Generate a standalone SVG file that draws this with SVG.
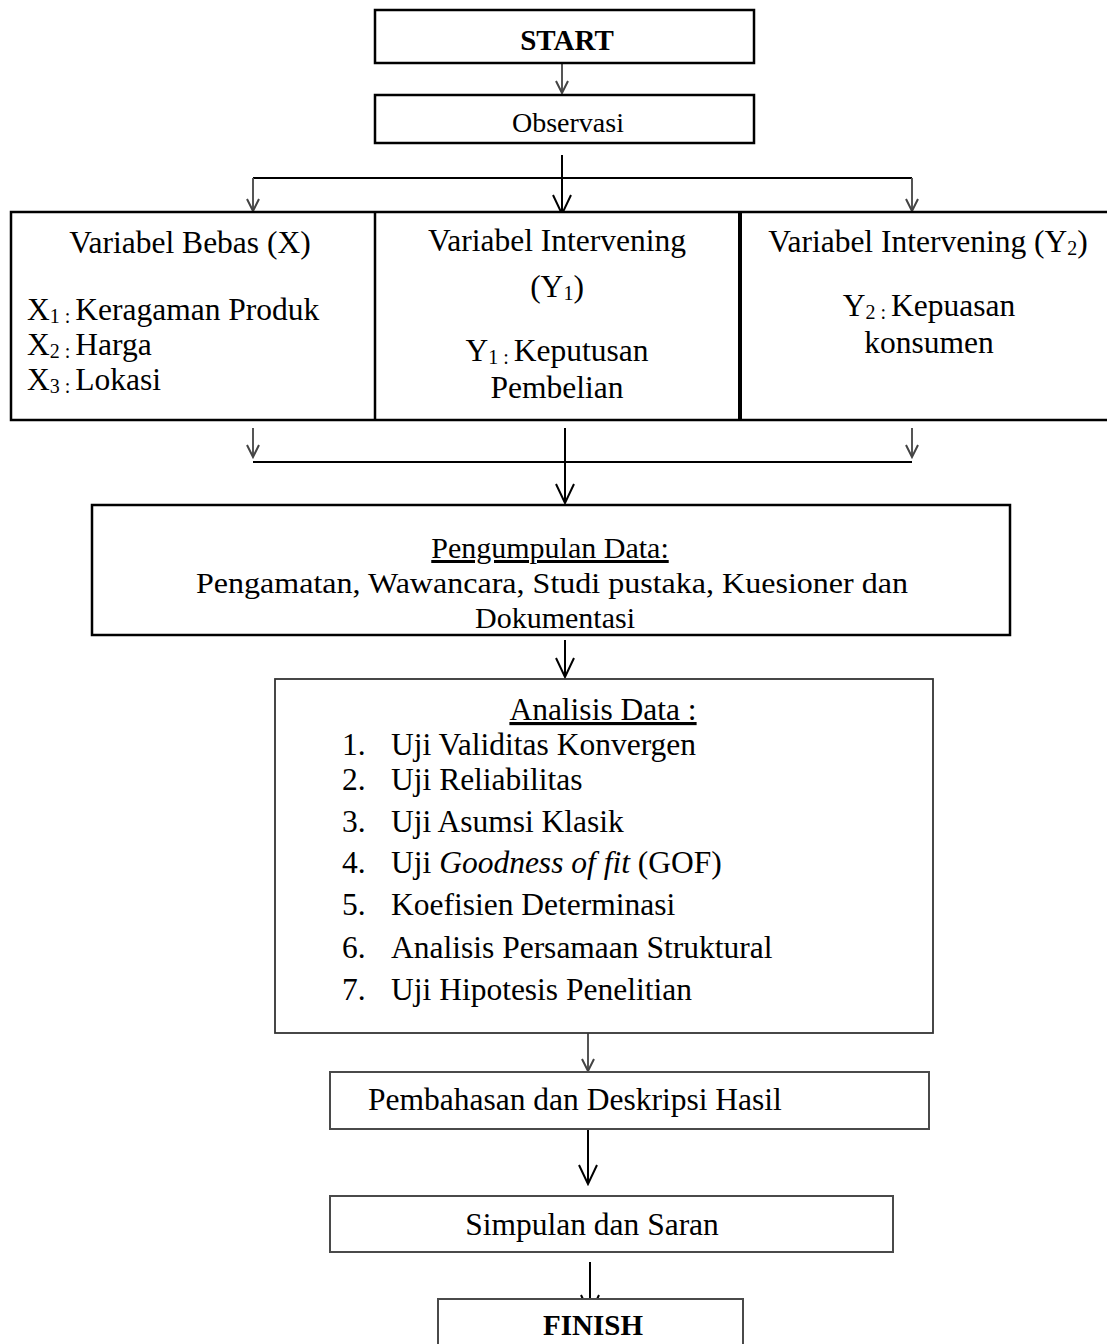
<svg xmlns="http://www.w3.org/2000/svg" width="1107" height="1344" viewBox="0 0 1107 1344">
<style>
.box{fill:#fff;stroke:#000;stroke-width:2.5}
.box2{fill:#fff;stroke:#4a4a4a;stroke-width:2}
.t{font-family:"Liberation Serif","Times New Roman",serif;font-size:31.5px;fill:#000}
.c{text-anchor:middle}
.b{font-weight:bold}
.u{text-decoration:underline}
.ln{fill:none;stroke:#000;stroke-width:2}
.big{fill:none;stroke:#000;stroke-width:2;marker-end:url(#ah)}
.sm{fill:none;stroke:#555;stroke-width:2;marker-end:url(#ahs)}
.sub{font-size:20px}
</style>
<defs>
<marker id="ah" viewBox="0 0 22 20" refX="20" refY="10" markerWidth="22" markerHeight="20" orient="auto" markerUnits="userSpaceOnUse">
<path d="M1,1 L20,10 L1,19" fill="none" stroke="#000" stroke-width="2"/>
</marker>
<marker id="ahs" viewBox="0 0 15 14" refX="13" refY="7" markerWidth="15" markerHeight="14" orient="auto" markerUnits="userSpaceOnUse">
<path d="M1,1 L13,7 L1,13" fill="none" stroke="#444" stroke-width="2"/>
</marker>
</defs>
<rect width="1107" height="1344" fill="#fff"/>

<g id="connectors">
<path class="sm" d="M562,63 V93"/>
<path class="big" d="M562,155 V214"/>
<path class="ln" d="M253,178 H912"/>
<path class="sm" d="M253,178 V211"/>
<path class="sm" d="M912,178 V211"/>
<path class="sm" d="M253,428 V457"/>
<path class="sm" d="M912,428 V457"/>
<path class="ln" d="M253,462 H912"/>
<path class="big" d="M565,428 V503"/>
<path class="big" d="M565,640 V677"/>
<path class="sm" d="M588,1033 V1071"/>
<path class="big" d="M588,1130 V1184"/>
<path class="big" d="M590,1262 V1314"/>
</g>

<g id="start">
<rect class="box" x="375" y="10" width="379" height="53"/>
<text class="t c b" x="567" y="50" style="font-size:29px">START</text>
</g>

<g id="observasi">
<rect class="box" x="375" y="95" width="379" height="48"/>
<text class="t c" x="568" y="132" style="font-size:28px">Observasi</text>
</g>

<g id="variabel">
<rect class="box" x="11" y="212" width="1110" height="208"/>
<line x1="375" y1="212" x2="375" y2="420" stroke="#000" stroke-width="2.5"/>
<line x1="740" y1="212" x2="740" y2="420" stroke="#000" stroke-width="4"/>
<g id="variabel-bebas">
<text class="t c" x="190" y="253">Variabel Bebas (X)</text>
<text class="t" x="27" y="320">X<tspan class="sub" dy="3">1 : </tspan><tspan dy="-3">Keragaman Produk</tspan></text>
<text class="t" x="27" y="355">X<tspan class="sub" dy="3">2 : </tspan><tspan dy="-3">Harga</tspan></text>
<text class="t" x="27" y="390">X<tspan class="sub" dy="3">3 : </tspan><tspan dy="-3">Lokasi</tspan></text>
</g>
<g id="variabel-y1">
<text class="t c" x="557" y="251">Variabel Intervening</text>
<text class="t c" x="557" y="297">(Y<tspan class="sub" dy="3">1</tspan><tspan dy="-3">)</tspan></text>
<text class="t c" x="557" y="361">Y<tspan class="sub" dy="3">1 : </tspan><tspan dy="-3">Keputusan</tspan></text>
<text class="t c" x="557" y="398">Pembelian</text>
</g>
<g id="variabel-y2">
<text class="t c" x="928" y="252">Variabel Intervening (Y<tspan class="sub" dy="3">2</tspan><tspan dy="-3">)</tspan></text>
<text class="t c" x="929" y="316">Y<tspan class="sub" dy="3">2 : </tspan><tspan dy="-3">Kepuasan</tspan></text>
<text class="t c" x="929" y="353">konsumen</text>
</g>
</g>

<g id="pengumpulan">
<rect class="box" x="92" y="505" width="918" height="130"/>
<text class="t c u" x="550" y="558" style="font-size:30px">Pengumpulan Data:</text>
<text class="t c" x="552" y="593" style="font-size:30px" textLength="712" lengthAdjust="spacingAndGlyphs">Pengamatan, Wawancara, Studi pustaka, Kuesioner dan</text>
<text class="t c" x="555" y="628" style="font-size:30px">Dokumentasi</text>
</g>

<g id="analisis">
<rect class="box" x="275" y="679" width="658" height="354" style="stroke:#333;stroke-width:1.8"/>
<text class="t c u" x="603" y="720">Analisis Data :</text>
<text class="t" x="342" y="755">1.</text><text class="t" x="391" y="755">Uji Validitas Konvergen</text>
<text class="t" x="342" y="790">2.</text><text class="t" x="391" y="790">Uji Reliabilitas</text>
<text class="t" x="342" y="832">3.</text><text class="t" x="391" y="832">Uji Asumsi Klasik</text>
<text class="t" x="342" y="873">4.</text><text class="t" x="391" y="873">Uji <tspan font-style="italic">Goodness of fit</tspan> (GOF)</text>
<text class="t" x="342" y="915">5.</text><text class="t" x="391" y="915">Koefisien Determinasi</text>
<text class="t" x="342" y="958">6.</text><text class="t" x="391" y="958">Analisis Persamaan Struktural</text>
<text class="t" x="342" y="1000">7.</text><text class="t" x="391" y="1000">Uji Hipotesis Penelitian</text>
</g>

<g id="pembahasan">
<rect class="box2" x="330" y="1072" width="599" height="57"/>
<text class="t" x="368" y="1110">Pembahasan dan Deskripsi Hasil</text>
</g>

<g id="simpulan">
<rect class="box2" x="330" y="1196" width="563" height="56"/>
<text class="t c" x="592" y="1235">Simpulan dan Saran</text>
</g>

<g id="finish">
<rect class="box2" x="438" y="1299" width="305" height="60"/>
<text class="t c b" x="593" y="1335" style="font-size:29px">FINISH</text>
</g>
</svg>
